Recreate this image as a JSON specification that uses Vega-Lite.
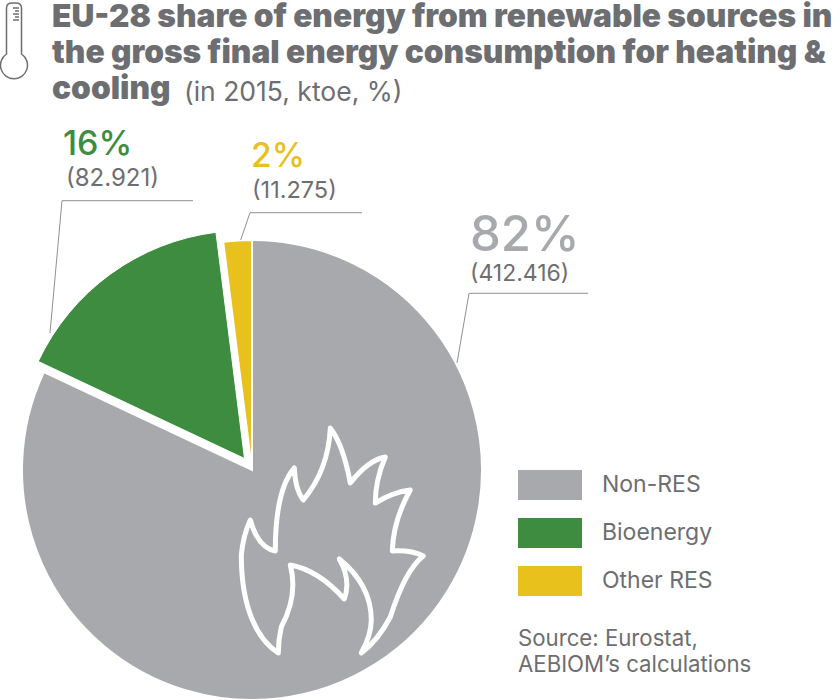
{
"$schema":"https://vega.github.io/schema/vega-lite/v6.json",
"width":840,"height":700,"padding":0,"autosize":{"type":"none"},"background":"white",
"datasets":{"pie":[
{"category":"Non-RES","share":82,"ktoe":"(412.416)","pct":"82%","order":1},
{"category":"Bioenergy","share":16,"ktoe":"(82.921)","pct":"16%","order":2},
{"category":"Other RES","share":2,"ktoe":"(11.275)","pct":"2%","order":3}
],"one":[{"k":1}]},
"data":{"name":"pie"},
"config":{"view":{"stroke":null},"text":{"font":"Inter","color":"#6D6E71","align":"left","baseline":"alphabetic"}},
"layer":[
{"transform":[{"stack":"share","sort":[{"field":"order"}],"as":["s0","s1"]},{"filter":"datum.category!=='Bioenergy'"}],
 "mark":{"type":"arc","radius":230,"stroke":"white","strokeWidth":2},
 "encoding":{"x":{"value":252},"y":{"value":470},
  "theta":{"field":"s0","type":"quantitative","scale":{"domain":[0,100],"range":[0,6.28319]}},"theta2":{"field":"s1"},
  "color":{"field":"category","type":"nominal","scale":{"domain":["Non-RES","Bioenergy","Other RES"],"range":["#A7A9AC","#3D8C40","#E8C11C"]},
   "legend":{"title":null,"orient":"none","legendX":518,"legendY":453,"padding":0,"symbolType":"M-1,-0.47H1V0.47H-1Z","symbolSize":4096,"symbolStrokeWidth":0,"symbolOpacity":1,"rowPadding":-18,"labelFont":"Inter","labelFontSize":23,"labelColor":"#6D6E71","labelOffset":20,"labelBaseline":"middle","labelLimit":240}}}},
{"transform":[{"stack":"share","sort":[{"field":"order"}],"as":["s0","s1"]},{"filter":"datum.category==='Bioenergy'"}],
 "mark":{"type":"arc","radius":228,"stroke":"white","strokeWidth":1},
 "encoding":{"x":{"value":244.5},"y":{"value":458.5},
  "theta":{"field":"s0","type":"quantitative","scale":{"domain":[0,100],"range":[0,6.28319]}},"theta2":{"field":"s1"},
  "color":{"field":"category","type":"nominal"}}},
{"data":{"name":"one"},"mark":{"type":"point","filled":false,"opacity":1,"size":4,"stroke":"white","strokeWidth":5,"strokeJoin":"round","shape":"M-55,113 C-75,100 -92,70 -92,15 Q-90,-5 -83,-20 Q-75,8 -58,11 Q-58,-50 -39,-72 Q-38,-50 -30,-40 Q-5,-70 -3,-112 Q10,-95 17,-57 Q35,-80 52,-83 Q42,-60 42,-37 Q60,-48 77,-50 Q60,-20 59,11 Q78,10 90,16 Q72,30 57,77 Q45,100 28,113 Q38,95 38,80 Q38,45 6,19 Q18,40 11,59 Q-15,30 -43,25 Q-35,55 -52,87 Q-55,100 -55,113 Z"},
 "encoding":{"x":{"value":333.3},"y":{"value":540}}},
{"data":{"name":"one"},"mark":{"type":"point","filled":false,"opacity":1,"size":4,"stroke":"#6D6E71","strokeWidth":1.5,"shape":"M-7.5,14 L-7.5,-32 Q-7.5,-37 -2,-37 L2,-37 Q7.5,-37 7.5,-32 L7.5,14 A13.5,13.5 0 1 1 -7.5,14 Z M-1,-32 L5,-32 M1,-29 L5,-29 M-1,-26 L5,-26 M1,-23 L5,-23 M-1,-20 L5,-20"},
 "encoding":{"x":{"value":14},"y":{"value":40}}},
{"data":{"name":"one"},"mark":{"type":"point","filled":false,"opacity":1,"size":4,"stroke":"#8F9093","strokeWidth":1,"shape":"M193,200.7 L62,200.7 L50,333 M362,212.7 L250,212.7 L240.7,240 M588,293.3 L469,293.3 L457,363"},
 "encoding":{"x":{"value":0},"y":{"value":0}}},
{"data":{"name":"one"},"mark":{"type":"text","fontSize":31.7,"fontWeight":900,"text":"EU-28 share of energy from renewable sources in"},"encoding":{"x":{"value":52},"y":{"value":27}}},
{"data":{"name":"one"},"mark":{"type":"text","fontSize":31.7,"fontWeight":900,"text":"the gross final energy consumption for heating &"},"encoding":{"x":{"value":52},"y":{"value":63}}},
{"data":{"name":"one"},"mark":{"type":"text","fontSize":31.7,"fontWeight":900,"text":"cooling"},"encoding":{"x":{"value":52},"y":{"value":99}}},
{"data":{"name":"one"},"mark":{"type":"text","fontSize":26.5,"text":"(in 2015, ktoe, %)"},"encoding":{"x":{"value":184},"y":{"value":100.7}}},
{"transform":[{"filter":"datum.category==='Bioenergy'"}],"mark":{"type":"text","fontSize":34,"fontWeight":500,"color":"#3D8C40"},"encoding":{"text":{"field":"pct"},"x":{"value":63},"y":{"value":155}}},
{"transform":[{"filter":"datum.category==='Bioenergy'"}],"mark":{"type":"text","fontSize":24},"encoding":{"text":{"field":"ktoe"},"x":{"value":66},"y":{"value":186}}},
{"transform":[{"filter":"datum.category==='Other RES'"}],"mark":{"type":"text","fontSize":33.5,"fontWeight":500,"color":"#E8C11C"},"encoding":{"text":{"field":"pct"},"x":{"value":251},"y":{"value":166.7}}},
{"transform":[{"filter":"datum.category==='Other RES'"}],"mark":{"type":"text","fontSize":23.5},"encoding":{"text":{"field":"ktoe"},"x":{"value":252},"y":{"value":198}}},
{"transform":[{"filter":"datum.category==='Non-RES'"}],"mark":{"type":"text","fontSize":49,"fontWeight":500,"color":"#A7A9AC"},"encoding":{"text":{"field":"pct"},"x":{"value":470},"y":{"value":250.7}}},
{"transform":[{"filter":"datum.category==='Non-RES'"}],"mark":{"type":"text","fontSize":23},"encoding":{"text":{"field":"ktoe"},"x":{"value":470},"y":{"value":281}}},
{"data":{"name":"one"},"mark":{"type":"text","fontSize":22.2,"lineHeight":25.7,"text":["Source: Eurostat,","AEBIOM’s calculations"]},"encoding":{"x":{"value":518},"y":{"value":646}}}
]}
